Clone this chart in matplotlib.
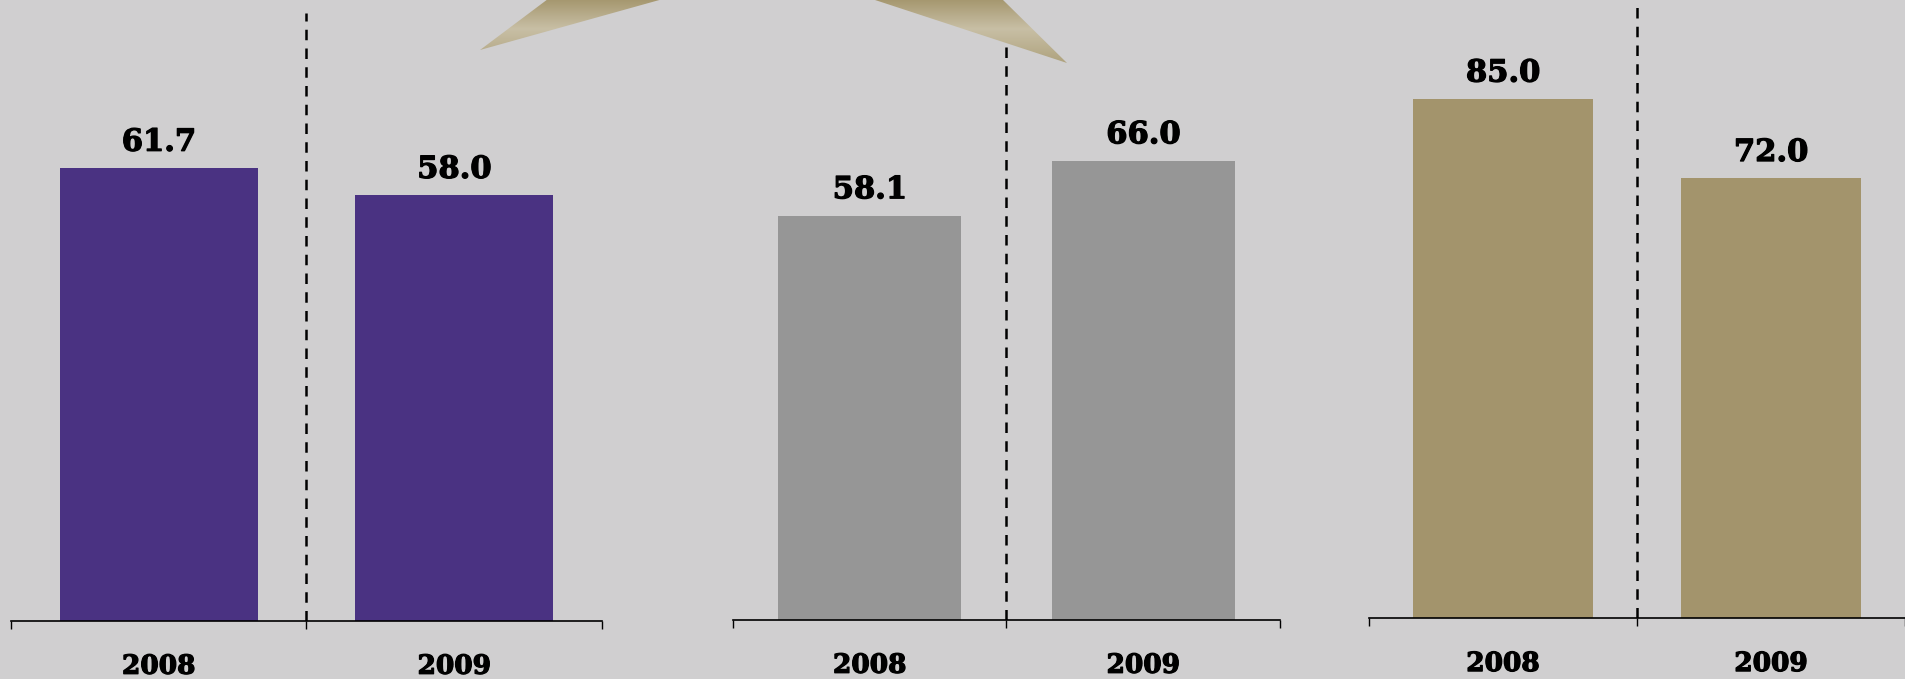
import numpy as np
import matplotlib
matplotlib.use("Agg")
import matplotlib.pyplot as plt
import matplotlib.patheffects as pe
from matplotlib.patches import Polygon
from matplotlib.colors import LinearSegmentedColormap

# ---------------------------
# Data
# ---------------------------
years = ["2008", "2009"]
panel1_values = [61.7, 58.0]
panel2_values = [58.1, 66.0]
panel3_values = [85.0, 72.0]
panel_colors = ["#4a3282", "#969696", "#a3946c"]

W, H = 1906, 679
bg = "#d0cfd0"

fig = plt.figure(figsize=(W / 100, H / 100), dpi=100, facecolor=bg)

# pixel layout: left, right, baseline, pixels per unit, top of dashed divider
layout = [
    (11, 602, 621, 7.34, 13),
    (733, 1280, 620, 6.96, 40),
    (1369, 1905, 618.3, 6.11, 7),
]

bold = [pe.withStroke(linewidth=0.9, foreground="black")]

for values, color, (left, right, base, scale, dash_top) in zip(
        [panel1_values, panel2_values, panel3_values], panel_colors, layout):
    ax = fig.add_axes([left / W, (H - base) / H, (right - left) / W, base / H])
    ax.set_facecolor("none")
    ax.set_xlim(-0.5, 1.5)
    ax.set_ylim(0, base / scale)
    ax.bar(range(len(values)), values, width=0.67, color=color, zorder=2)

    for s in ["top", "left", "right"]:
        ax.spines[s].set_visible(False)
    ax.spines["bottom"].set_linewidth(1.2)
    ax.spines["bottom"].set_zorder(3)
    ax.set_yticks([])
    ax.set_xticks([-0.5, 0.5, 1.5])
    ax.set_xticklabels([])
    ax.tick_params(axis="x", direction="out", length=6, width=1)

    ax.axvline(0.5, ymin=0, ymax=(base - dash_top) / base, color="black",
               lw=1.8, dashes=(4.2, 3.3), zorder=1)

    for i, v in enumerate(values):
        ax.annotate(f"{v:.1f}", xy=(i, v), xytext=(0, 12.5), textcoords="offset points",
                    ha="center", va="baseline", fontsize=22, fontweight="bold",
                    family="DejaVu Serif", color="black", path_effects=bold)
        ax.annotate(years[i], xy=(i, 0), xycoords=("data", "axes fraction"),
                    xytext=(0, -38), textcoords="offset points",
                    ha="center", va="baseline", fontsize=19, fontweight="bold",
                    family="DejaVu Serif", color="black", annotation_clip=False,
                    path_effects=bold)

# ---------------------------
# Decorative star arms at the top
# ---------------------------
deco = fig.add_axes([0, 0, 1, 1])
deco.set_xlim(0, W)
deco.set_ylim(H, 0)
deco.axis("off")
deco.set_facecolor("none")

star_cmap = LinearSegmentedColormap.from_list(
    "star", [(0, "#a69870"), (0.45, "#c8bfa5"), (1, "#aea27d")])
grad = np.linspace(0, 1, 200).reshape(-1, 1)
arms = [
    [(480, 50), (548, -1), (663, -1)],
    [(872, -1), (1002, -1), (1067, 63)],
]
for arm in arms:
    poly = Polygon(arm, closed=True, facecolor="none", edgecolor="none")
    deco.add_patch(poly)
    im = deco.imshow(grad, cmap=star_cmap, extent=[450, 1100, 64, 0],
                     aspect="auto", interpolation="bilinear", zorder=5)
    im.set_clip_path(poly)
deco.set_xlim(0, W)
deco.set_ylim(H, 0)

fig.savefig("out.png", dpi=100, facecolor=bg)
